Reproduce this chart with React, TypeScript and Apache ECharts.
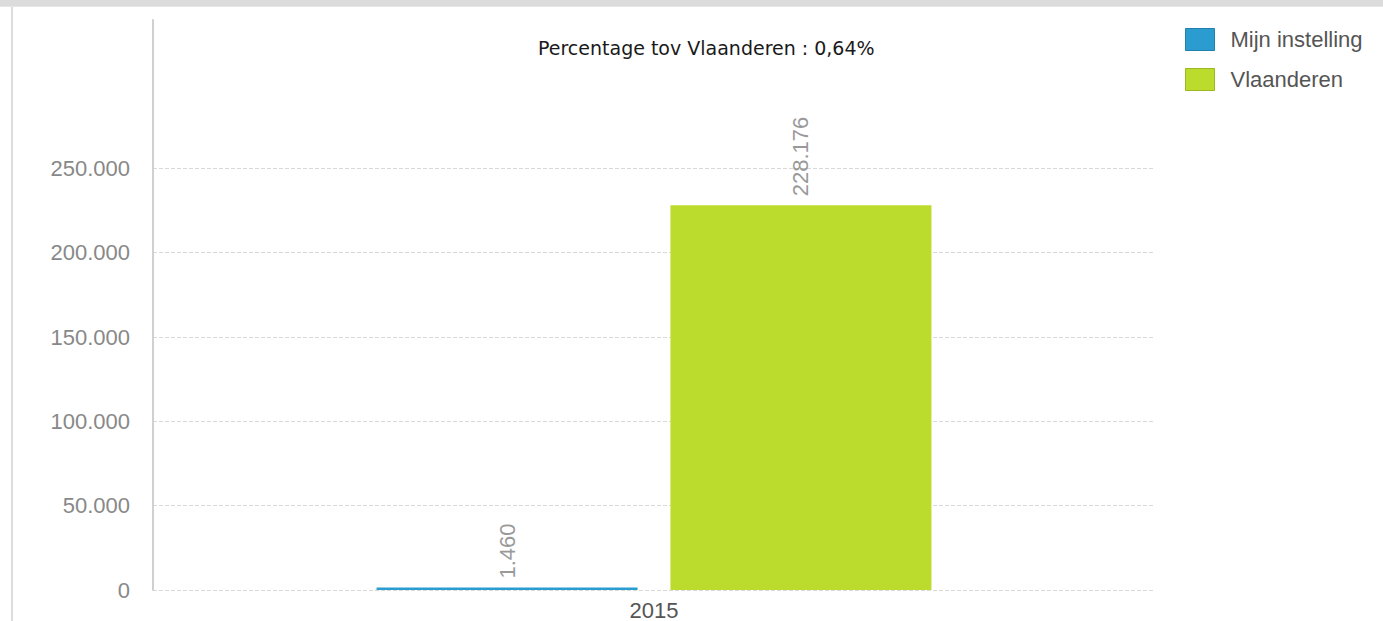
import React, { useEffect, useRef } from "react";
import * as echarts from "echarts";

const categories = ["2015"];
const mijnInstelling = [1460];
const vlaanderen = [228176];
const seriesNames = ["Mijn instelling", "Vlaanderen"];
const seriesColors = ["#2b9ccf", "#bcdc2d"];
const legendBorders = ["#2380ad", "#9bb81f"];
const titleText = "Percentage tov Vlaanderen : 0,64%";

const fmt = (v: number) => String(v).replace(/\B(?=(\d{3})+(?!\d))/g, ".");

export default function App() {
  const ref = useRef<HTMLDivElement>(null);
  useEffect(() => {
    if (!ref.current) return;
    const chart = echarts.init(ref.current, null, { renderer: "svg" });
    const font = "Liberation Sans, Arial, sans-serif";
    const label = {
      show: true,
      position: "top",
      rotate: 90,
      align: "left",
      verticalAlign: "middle",
      distance: 9,
      fontSize: 22,
      color: "#999",
      fontFamily: font,
      formatter: (p: any) => fmt(p.value),
    };
    chart.setOption({
      animation: false,
      textStyle: { fontFamily: font },
      title: {
        text: titleText,
        left: 538,
        top: 38,
        padding: 0,
        textStyle: { fontSize: 19, fontWeight: "normal", color: "#1a1a1a", fontFamily: "DejaVu Sans, sans-serif" },
      },
      legend: {
        orient: "vertical",
        left: 1185,
        top: 28,
        padding: 0,
        itemWidth: 29,
        itemHeight: 22,
        itemGap: 17,
        icon: "rect",
        textStyle: { fontSize: 22, color: "#555", fontFamily: font, padding: [0, 0, 0, 11] },
        data: seriesNames.map((n, i) => ({
          name: n,
          itemStyle: { borderColor: legendBorders[i], borderWidth: 1 },
        })),
      },
      grid: { left: 153, right: 228, top: 20, bottom: 30, containLabel: false },
      xAxis: {
        type: "category",
        data: categories,
        axisLine: { show: false },
        axisTick: { show: false },
        axisLabel: { fontSize: 22, color: "#555", margin: 9, fontFamily: font },
      },
      yAxis: {
        type: "value",
        min: 0,
        max: 338000,
        interval: 50000,
        axisLine: { show: true, lineStyle: { color: "#d0d0d0", width: 2 } },
        axisTick: { show: false },
        axisLabel: {
          fontSize: 22,
          color: "#888",
          margin: 23,
          fontFamily: font,
          formatter: (v: number) => (v > 250000 ? "" : fmt(v)),
        },
        splitLine: {
          show: true,
          lineStyle: {
            type: "dashed",
            color: ["#d9d9d9", "#d9d9d9", "#d9d9d9", "#d9d9d9", "#d9d9d9", "#d9d9d9", "rgba(0,0,0,0)", "rgba(0,0,0,0)"],
          },
        },
      },
      graphic: [
        { type: "rect", shape: { x: 0, y: 0, width: 1383, height: 6 }, style: { fill: "#dcdcdc" } },
        { type: "line", shape: { x1: 0, y1: 6.5, x2: 1383, y2: 6.5 }, style: { stroke: "#e6e6e6", lineWidth: 1 } },
        { type: "line", shape: { x1: 12, y1: 7, x2: 12, y2: 621 }, style: { stroke: "#dddddd", lineWidth: 2 } },
      ],
      series: [
        {
          name: seriesNames[0],
          type: "bar",
          data: mijnInstelling,
          barWidth: 261,
          barGap: "12.6%",
          itemStyle: { color: seriesColors[0] },
          label,
        },
        {
          name: seriesNames[1],
          type: "bar",
          data: vlaanderen,
          barWidth: 261,
          barGap: "12.6%",
          itemStyle: { color: seriesColors[1] },
          label,
        },
      ],
    });
    return () => chart.dispose();
  }, []);
  return (
    <div
      ref={ref}
      style={{ position: "fixed", left: 0, top: 0, width: 1383, height: 621, background: "#fff" }}
    />
  );
}
